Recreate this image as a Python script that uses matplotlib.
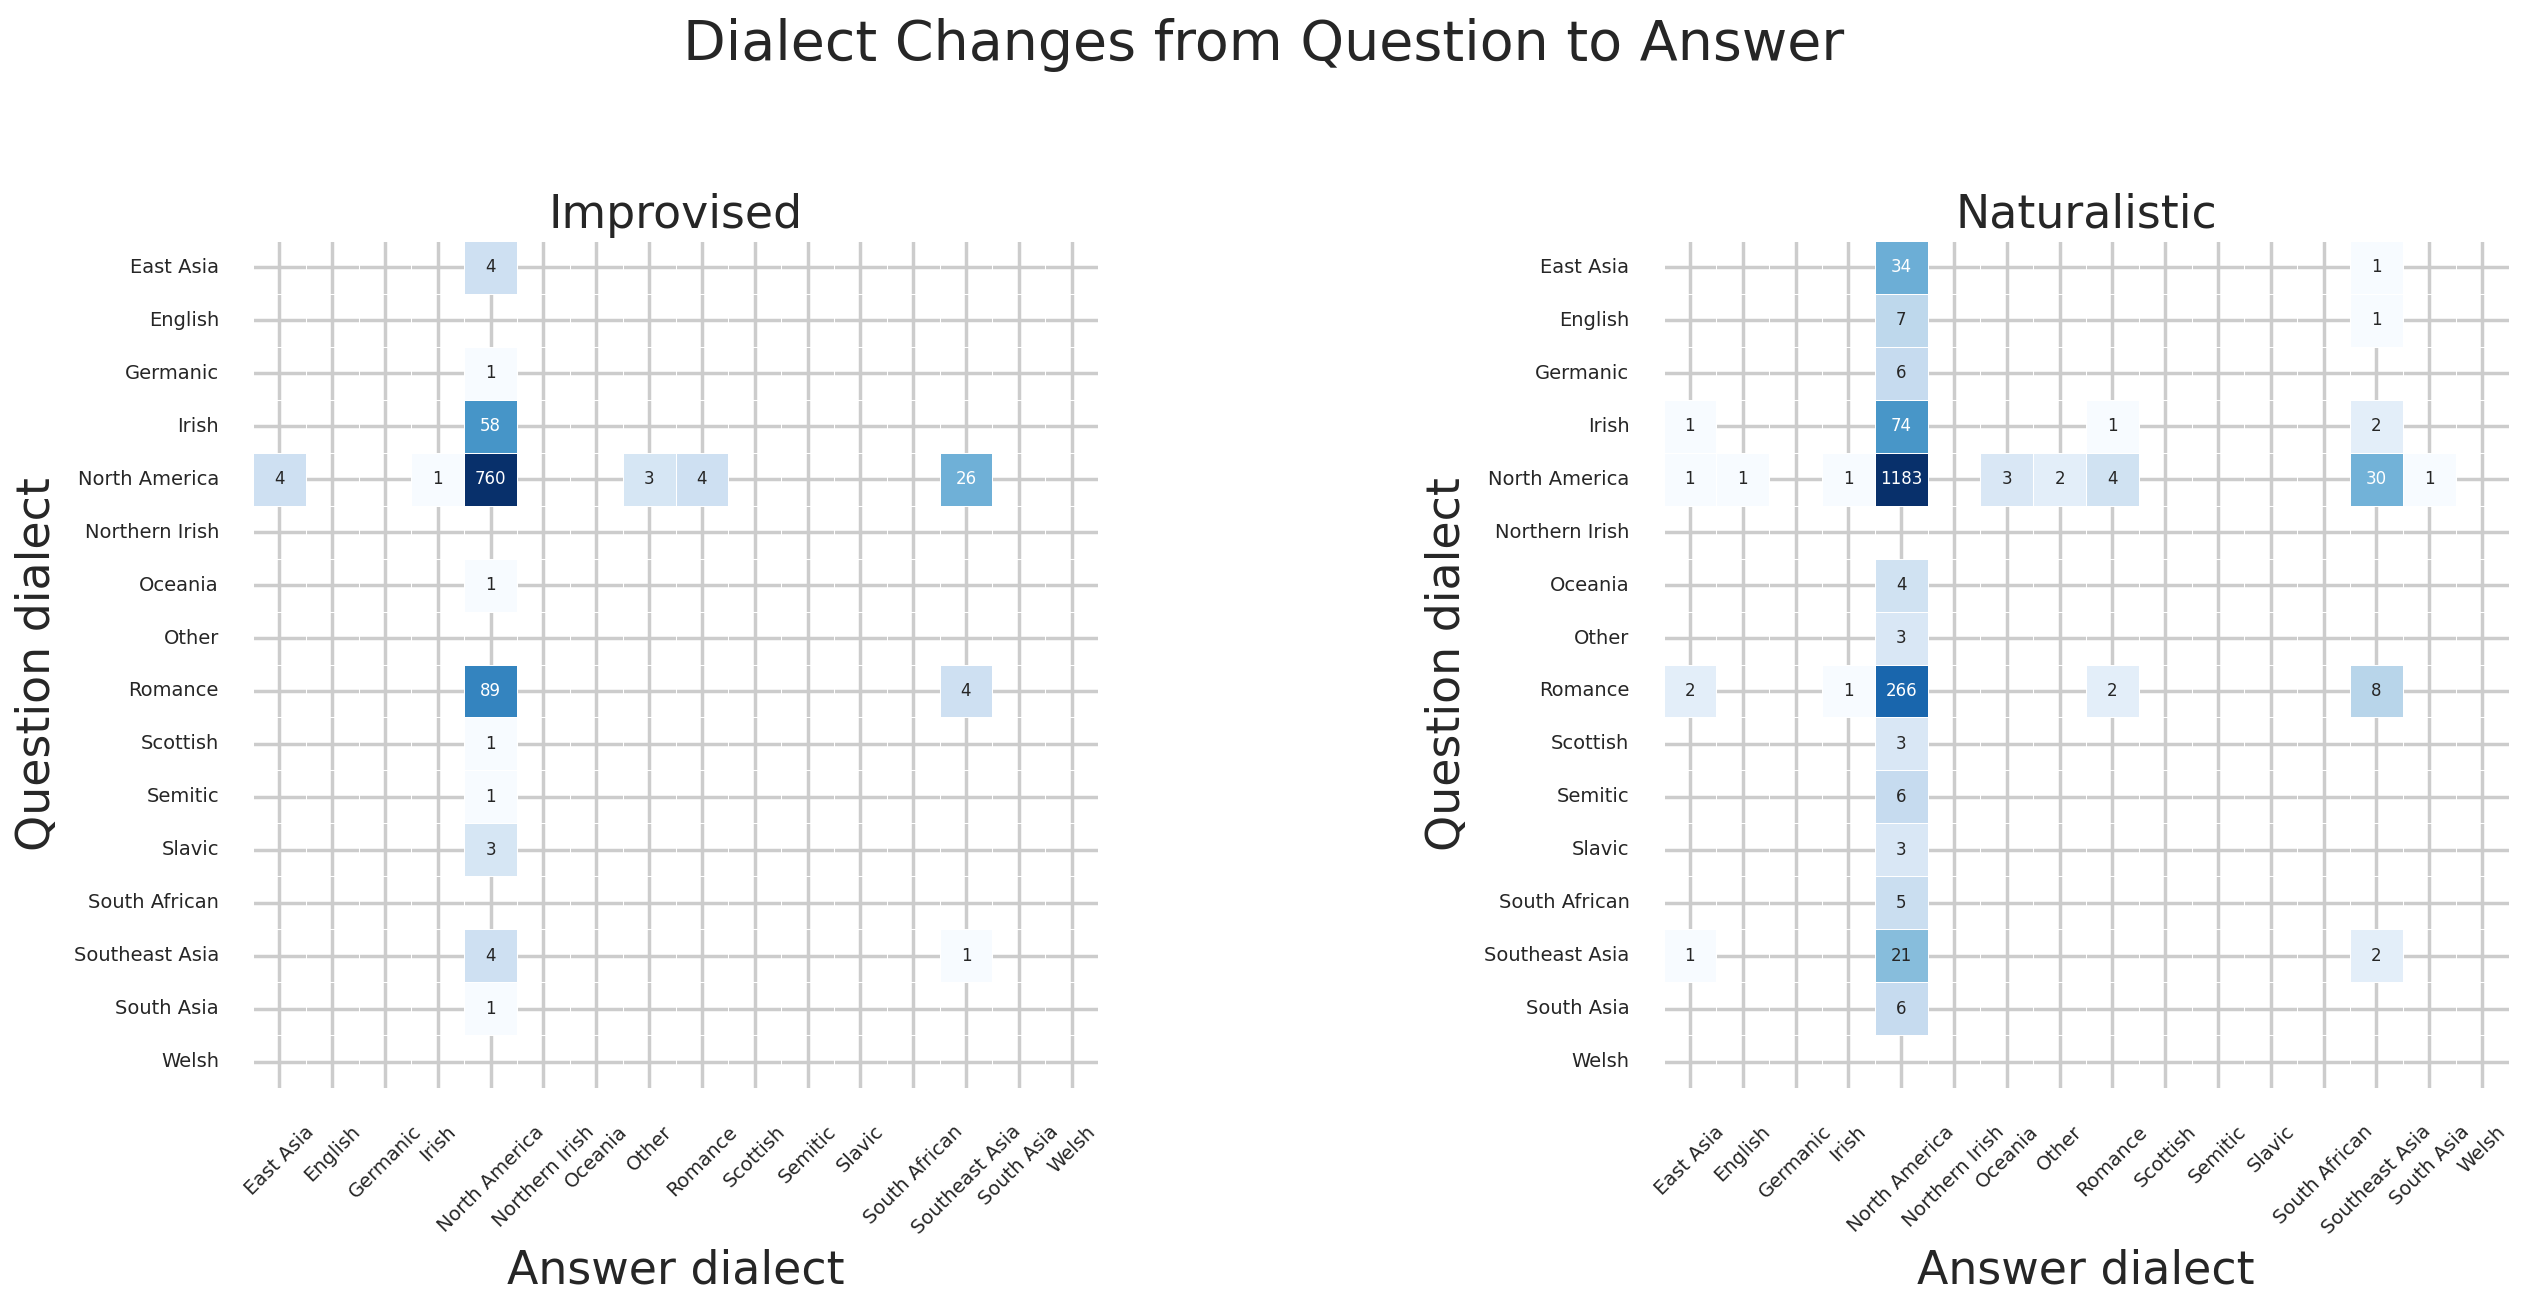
import numpy as np
import matplotlib
matplotlib.use("Agg")
import matplotlib.pyplot as plt
import seaborn as sns
from matplotlib.colors import LogNorm

dialects = ["East Asia", "English", "Germanic", "Irish", "North America",
            "Northern Irish", "Oceania", "Other", "Romance", "Scottish",
            "Semitic", "Slavic", "South African", "Southeast Asia",
            "South Asia", "Welsh"]

# rows: question dialect, columns: answer dialect
improvised_counts = [
    [0, 0, 0, 0, 4, 0, 0, 0, 0, 0, 0, 0, 0, 0, 0, 0],
    [0, 0, 0, 0, 0, 0, 0, 0, 0, 0, 0, 0, 0, 0, 0, 0],
    [0, 0, 0, 0, 1, 0, 0, 0, 0, 0, 0, 0, 0, 0, 0, 0],
    [0, 0, 0, 0, 58, 0, 0, 0, 0, 0, 0, 0, 0, 0, 0, 0],
    [4, 0, 0, 1, 760, 0, 0, 3, 4, 0, 0, 0, 0, 26, 0, 0],
    [0, 0, 0, 0, 0, 0, 0, 0, 0, 0, 0, 0, 0, 0, 0, 0],
    [0, 0, 0, 0, 1, 0, 0, 0, 0, 0, 0, 0, 0, 0, 0, 0],
    [0, 0, 0, 0, 0, 0, 0, 0, 0, 0, 0, 0, 0, 0, 0, 0],
    [0, 0, 0, 0, 89, 0, 0, 0, 0, 0, 0, 0, 0, 4, 0, 0],
    [0, 0, 0, 0, 1, 0, 0, 0, 0, 0, 0, 0, 0, 0, 0, 0],
    [0, 0, 0, 0, 1, 0, 0, 0, 0, 0, 0, 0, 0, 0, 0, 0],
    [0, 0, 0, 0, 3, 0, 0, 0, 0, 0, 0, 0, 0, 0, 0, 0],
    [0, 0, 0, 0, 0, 0, 0, 0, 0, 0, 0, 0, 0, 0, 0, 0],
    [0, 0, 0, 0, 4, 0, 0, 0, 0, 0, 0, 0, 0, 1, 0, 0],
    [0, 0, 0, 0, 1, 0, 0, 0, 0, 0, 0, 0, 0, 0, 0, 0],
    [0, 0, 0, 0, 0, 0, 0, 0, 0, 0, 0, 0, 0, 0, 0, 0],
]

naturalistic_counts = [
    [0, 0, 0, 0, 34, 0, 0, 0, 0, 0, 0, 0, 0, 1, 0, 0],
    [0, 0, 0, 0, 7, 0, 0, 0, 0, 0, 0, 0, 0, 1, 0, 0],
    [0, 0, 0, 0, 6, 0, 0, 0, 0, 0, 0, 0, 0, 0, 0, 0],
    [1, 0, 0, 0, 74, 0, 0, 0, 1, 0, 0, 0, 0, 2, 0, 0],
    [1, 1, 0, 1, 1183, 0, 3, 2, 4, 0, 0, 0, 0, 30, 1, 0],
    [0, 0, 0, 0, 0, 0, 0, 0, 0, 0, 0, 0, 0, 0, 0, 0],
    [0, 0, 0, 0, 4, 0, 0, 0, 0, 0, 0, 0, 0, 0, 0, 0],
    [0, 0, 0, 0, 3, 0, 0, 0, 0, 0, 0, 0, 0, 0, 0, 0],
    [2, 0, 0, 1, 266, 0, 0, 0, 2, 0, 0, 0, 0, 8, 0, 0],
    [0, 0, 0, 0, 3, 0, 0, 0, 0, 0, 0, 0, 0, 0, 0, 0],
    [0, 0, 0, 0, 6, 0, 0, 0, 0, 0, 0, 0, 0, 0, 0, 0],
    [0, 0, 0, 0, 3, 0, 0, 0, 0, 0, 0, 0, 0, 0, 0, 0],
    [0, 0, 0, 0, 5, 0, 0, 0, 0, 0, 0, 0, 0, 0, 0, 0],
    [1, 0, 0, 0, 21, 0, 0, 0, 0, 0, 0, 0, 0, 2, 0, 0],
    [0, 0, 0, 0, 6, 0, 0, 0, 0, 0, 0, 0, 0, 0, 0, 0],
    [0, 0, 0, 0, 0, 0, 0, 0, 0, 0, 0, 0, 0, 0, 0, 0],
]

panel_titles = ["Improvised", "Naturalistic"]

sns.set_style("whitegrid")
plt.rcParams["font.family"] = ["DejaVu Sans"]
TEXT = "#262626"

W, H = 2528, 1309
fig = plt.figure(figsize=(W / 100, H / 100), dpi=100)

ax_w, ax_h = 845, 847
bottom_px = 1088
lefts = [253, 1663.5]

for data, title, left in zip([improvised_counts, naturalistic_counts], panel_titles, lefts):
    ax = fig.add_axes([left / W, 1 - bottom_px / H, ax_w / W, ax_h / H])
    arr = np.array(data)
    mask = arr == 0
    sns.heatmap(arr, mask=mask, ax=ax, cmap="Blues",
                norm=LogNorm(vmin=arr[arr > 0].min(), vmax=arr.max()),
                annot=True, fmt="d", annot_kws={"size": 12},
                linewidths=0.7, linecolor="white", cbar=False,
                xticklabels=dialects, yticklabels=dialects)
    ax.set_axisbelow(True)
    ax.grid(True, color="#cccccc", linewidth=2.5)
    for s in ax.spines.values():
        s.set_visible(False)
    ax.tick_params(axis="both", length=0, pad=24.5, labelsize=14, labelcolor=TEXT)
    ax.set_xticklabels(dialects, rotation=45, ha="center")
    ax.set_yticklabels(dialects, rotation=0, ha="right", va="center")
    ax.set_title(title, fontsize=33, color=TEXT, pad=9.4)
    ax.set_xlabel("Answer dialect", fontsize=33, color=TEXT)
    ax.xaxis.set_label_coords(0.5, (bottom_px - 1283) / ax_h)
    ax.xaxis.label.set_verticalalignment("baseline")
    ax.set_ylabel("Question dialect", fontsize=33, color=TEXT)
    ax.yaxis.set_label_coords((37 - 253) / ax_w, 0.5)
    ax.yaxis.label.set_verticalalignment("center")

fig.suptitle("Dialect Changes from Question to Answer", fontsize=40, color=TEXT,
             x=0.5, y=1 - 60 / H, va="baseline")

fig.savefig("out.png", dpi=100)
